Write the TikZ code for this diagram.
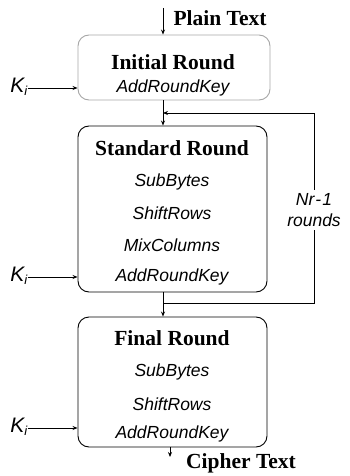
\documentclass[tikz,border=0pt]{standalone}
\usepackage{fontspec}
\setmainfont{Liberation Serif}
\setsansfont{Liberation Sans}
\usetikzlibrary{arrows.meta}
\begin{document}
\begin{tikzpicture}[x=1pt,y=-1pt,
  roundbox/.style={draw, line width=0.9pt, rounded corners=11pt, inner sep=0pt},
  title/.style={font=\fontsize{21.5}{24}\selectfont\bfseries, inner sep=0pt},
  op/.style={font=\fontsize{17.5}{20}\sffamily\itshape, inner sep=0pt},
  key/.style={font=\fontsize{21}{24}\sffamily\itshape, inner sep=0pt},
  flow/.style={line width=0.8pt, -{Stealth[length=5pt,width=4pt]}},
  wire/.style={line width=0.8pt}]
\useasboundingbox (0,0) rectangle (350,476);

% round boxes
\node[roundbox, draw=black!35, minimum width=192pt, minimum height=65pt] (init) at (174,67.5) {};
\node[roundbox, minimum width=189pt, minimum height=166pt] (std) at (172.5,209) {};
\node[roundbox, minimum width=189pt, minimum height=130pt] (fin) at (172.5,382) {};

% box contents
\node[title] (initt) at (173,62) {Initial Round};
\node[op] (inita) at (173,88) {AddRoundKey};

\node[title] (stdt) at (172,148) {Standard Round};
\node[op] (stds) at (172,182) {SubBytes};
\node[op] (stdr) at (172,213) {ShiftRows};
\node[op] (stdm) at (172,245) {MixColumns};
\node[op] (stda) at (172,277) {AddRoundKey};

\node[title] (fint) at (172,338) {Final Round};
\node[op] (fins) at (172,372) {SubBytes};
\node[op] (finr) at (172,404) {ShiftRows};
\node[op] (fina) at (172,434) {AddRoundKey};

% input and output labels
\node[title] (pt) at (220,18) {Plain Text};
\node[title] (ct) at (241,463) {Cipher Text};

% round keys
\node[key] (k1) at (19,87) {K\textsubscript{\fontsize{13}{14}\selectfont i}};
\node[key] (k2) at (19,276) {K\textsubscript{\fontsize{13}{14}\selectfont i}};
\node[key] (k3) at (19,427) {K\textsubscript{\fontsize{13}{14}\selectfont i}};

% helper coordinates
\coordinate (spine) at (163,0);
\coordinate (ptin) at (163,8);
\coordinate (ctout) at (170,457);
\coordinate (ctx) at (170,0);
\coordinate (fbbot) at (163,303);
\coordinate (fbtop) at (163,113);
\coordinate (fbr) at (314,113);

% key inputs
\draw[flow] (k1.east |- 0,88) -- (init.west |- 0,88);
\draw[flow] (k2.east |- 0,277) -- (std.west |- 0,277);
\draw[flow] (k3.east |- 0,428) -- (fin.west |- 0,428);

% data path
\draw[flow] (ptin) -- (init.north -| ptin);
\draw[flow] (init.south -| spine) -- (std.north -| spine);
\draw[flow] (std.south -| spine) -- (fin.north -| spine);
\draw[flow] (fin.south -| ctx) -- (ctout);

% loop back for the remaining rounds
\draw[flow] (fbbot) -- (fbr |- fbbot) -- (fbr) -- (fbtop);
\node[op, fill=white, align=center, inner sep=3pt] (loop) at (314,210)
  {Nr\kern1pt-\kern1pt1\\[1pt]rounds};
\end{tikzpicture}
\end{document}
